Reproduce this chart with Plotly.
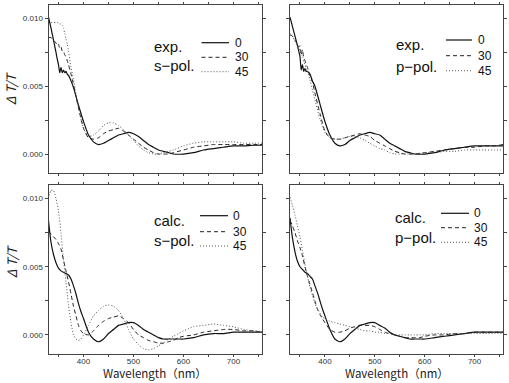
import plotly.graph_objects as go

# ---------------- data ----------------
angles = ["0", "30", "45"]

wl_exp = [330, 335, 340, 345, 347.5, 350, 352.5, 355, 357.5, 360, 362.5, 365, 367.5, 370,
          375, 380, 390, 400, 410, 420, 430, 440, 450, 460, 470, 480, 490, 500, 510, 520,
          530, 540, 550, 560, 570, 580, 600, 620, 640, 660, 680, 700, 720, 740, 757]

exp_s_0 = [0.0101, 0.0093, 0.0084, 0.0075, 0.0070, 0.0066, 0.0060, 0.0064, 0.0060, 0.0062, 0.0060, 0.0061, 0.0059, 0.0058,
           0.0054, 0.0049, 0.0036, 0.0024, 0.0014, 0.0009, 0.0007, 0.0008, 0.0010, 0.0012, 0.0014, 0.0015, 0.0016, 0.0015, 0.0013, 0.0010,
           0.0007, 0.0005, 0.0003, 0.0002, 0.0001, 0.0000, 0.0000, 0.0001, 0.0003, 0.0004, 0.0005, 0.0006, 0.0006, 0.00065, 0.00065]
exp_s_30 = [0.0086, 0.0086, 0.0084, 0.0082, 0.0080, 0.0081, 0.0078, 0.0079, 0.0076, 0.0076, 0.0073, 0.0072, 0.0069, 0.0066,
            0.0059, 0.0051, 0.0034, 0.0019, 0.0012, 0.0011, 0.0012, 0.0015, 0.0017, 0.0018, 0.0019, 0.0017, 0.0014, 0.0011, 0.0008, 0.0005,
            0.0003, 0.0001, 0.0000, 0.0000, 0.0000, 0.0001, 0.0003, 0.0005, 0.0006, 0.0007, 0.0007, 0.0007, 0.0007, 0.0007, 0.0007]
exp_s_45 = [0.0096, 0.0097, 0.0097, 0.0097, 0.0097, 0.0097, 0.0096, 0.0096, 0.0095, 0.0093, 0.0089, 0.0085, 0.0081, 0.0076,
            0.0064, 0.0055, 0.0034, 0.0019, 0.0013, 0.0014, 0.0017, 0.0021, 0.0023, 0.0023, 0.0021, 0.0018, 0.0014, 0.0010, 0.0006, 0.0003,
            0.0001, 0.0000, 0.0000, 0.0001, 0.0002, 0.0003, 0.0006, 0.0008, 0.0009, 0.0009, 0.0009, 0.0009, 0.0008, 0.0008, 0.0008]

exp_p_0 = [0.0101, 0.0094, 0.0087, 0.0080, 0.0076, 0.0072, 0.0062, 0.0066, 0.0061, 0.0063, 0.0061, 0.0061, 0.0060, 0.0059,
           0.0054, 0.0050, 0.0037, 0.0024, 0.0014, 0.0008, 0.0006, 0.0007, 0.0010, 0.0012, 0.0014, 0.0015, 0.0016, 0.0015, 0.0014, 0.0011,
           0.0008, 0.0006, 0.0004, 0.0002, 0.0001, 0.0000, 0.0000, 0.0001, 0.0003, 0.0004, 0.0005, 0.0006, 0.0006, 0.0006, 0.0006]
exp_p_30 = [0.0088, 0.0087, 0.0084, 0.0081, 0.0079, 0.0080, 0.0073, 0.0077, 0.0071, 0.0069, 0.0066, 0.0064, 0.0061, 0.0058,
            0.0053, 0.0045, 0.0030, 0.0017, 0.0012, 0.0011, 0.0011, 0.0012, 0.0013, 0.0014, 0.0015, 0.0014, 0.0013, 0.0010, 0.0008, 0.0006,
            0.0004, 0.0002, 0.0001, 0.0000, 0.0000, 0.0000, 0.0001, 0.0002, 0.0003, 0.0004, 0.0005, 0.0005, 0.0006, 0.0006, 0.0007]
exp_p_45 = [0.0089, 0.0087, 0.0083, 0.0080, 0.0078, 0.0076, 0.0073, 0.0071, 0.0068, 0.0066, 0.0063, 0.0061, 0.0058, 0.0055,
            0.0047, 0.0040, 0.0026, 0.0016, 0.0012, 0.0011, 0.0011, 0.0012, 0.0013, 0.0013, 0.0012, 0.0010, 0.0008, 0.0006, 0.0004, 0.0003,
            0.0001, 0.0000, 0.0000, 0.0000, 0.0000, 0.0000, 0.0001, 0.0001, 0.0002, 0.0002, 0.0003, 0.0003, 0.0003, 0.0003, 0.0003]

wl_calc = [330, 335, 340, 345, 350, 355, 360, 365, 370, 375, 380, 385, 390, 395, 400, 410, 420, 430, 440, 450,
           460, 470, 480, 490, 500, 510, 520, 530, 540, 550, 560, 570, 580, 590, 600, 620, 640, 660, 680, 700,
           720, 740, 757]

calc_s_0 = [0.0084, 0.0068, 0.0059, 0.0053, 0.0049, 0.0047, 0.0046, 0.0045, 0.0044, 0.0041, 0.0036, 0.0030, 0.0023, 0.0017, 0.0012, 0.0002, -0.0003, -0.0005, -0.0003, 0.0001,
            0.0004, 0.0007, 0.0008, 0.0009, 0.0009, 0.0007, 0.0004, 0.0002, 0.0000, -0.0002, -0.0003, -0.0003, -0.0003, -0.0003, -0.0003, -0.0002, 0.0000, 0.0001, 0.0001, 0.0002,
            0.0002, 0.0002, 0.0002]
calc_s_30 = [0.0076, 0.0074, 0.0072, 0.0070, 0.0067, 0.0063, 0.0055, 0.0047, 0.0039, 0.0030, 0.0021, 0.0014, 0.0007, 0.0003, 0.0001, 0.0000, 0.0003, 0.0007, 0.0010, 0.0012,
             0.0013, 0.0014, 0.0012, 0.0009, 0.0004, 0.0000, -0.0002, -0.0004, -0.0005, -0.0006, -0.0006, -0.0005, -0.0004, -0.0002, -0.0001, 0.0000, 0.0002, 0.0003, 0.0004, 0.0004,
             0.0003, 0.0003, 0.0002]
calc_s_45 = [0.0100, 0.0106, 0.0106, 0.0100, 0.0091, 0.0075, 0.0055, 0.0039, 0.0022, 0.0009, 0.0000, -0.0003, -0.0004, -0.0003, 0.0000, 0.0007, 0.0014, 0.0018, 0.0021, 0.0022,
             0.0021, 0.0018, 0.0012, 0.0004, -0.0003, -0.0007, -0.0010, -0.0011, -0.0010, -0.0008, -0.0006, -0.0003, -0.0001, 0.0001, 0.0003, 0.0006, 0.0007, 0.0008, 0.0007, 0.0006,
             0.0004, 0.0003, 0.0002]

calc_p_0 = [0.0086, 0.0071, 0.0061, 0.0054, 0.0050, 0.0048, 0.0046, 0.0045, 0.0043, 0.0041, 0.0036, 0.0031, 0.0025, 0.0019, 0.0014, 0.0004, -0.0003, -0.0005, -0.0003, 0.0001,
            0.0004, 0.0007, 0.0008, 0.0009, 0.0009, 0.0007, 0.0005, 0.0002, 0.0000, -0.0001, -0.0002, -0.0003, -0.0003, -0.0003, -0.0003, -0.0002, -0.0001, 0.0000, 0.0001, 0.0002,
            0.0002, 0.0002, 0.0002]
calc_p_30 = [0.0084, 0.0080, 0.0075, 0.0069, 0.0064, 0.0058, 0.0050, 0.0043, 0.0037, 0.0031, 0.0025, 0.0019, 0.0015, 0.0012, 0.0009, 0.0004, 0.0002, 0.0002, 0.0003, 0.0005,
             0.0006, 0.0007, 0.0007, 0.0007, 0.0006, 0.0004, 0.0002, 0.0001, 0.0000, -0.0001, -0.0002, -0.0002, -0.0002, -0.0002, -0.0001, 0.0000, 0.0000, 0.0001, 0.0001, 0.0002,
             0.0002, 0.0002, 0.0002]
calc_p_45 = [0.0101, 0.0095, 0.0088, 0.0080, 0.0072, 0.0062, 0.0052, 0.0043, 0.0035, 0.0029, 0.0023, 0.0019, 0.0016, 0.0013, 0.0012, 0.0010, 0.0009, 0.0008, 0.0007, 0.0006,
             0.0005, 0.0004, 0.0003, 0.0003, 0.0002, 0.0002, 0.0001, 0.0001, 0.0000, 0.0000, 0.0000, 0.0000, 0.0000, 0.0000, 0.0000, 0.0001, 0.0001, 0.0001, 0.0001, 0.0001,
             0.0001, 0.0001, 0.0001]

y_ticks = [0.000, 0.005, 0.010]
x_ticks = [400, 500, 600, 700]

# ---------------- layout helpers ----------------
W, H = 509, 383
def fx(p): return p / W
def fy(p): return 1 - p / H

styles = [dict(color="#111111", width=1.2, dash="solid"),
          dict(color="#222222", width=1.0, dash="4px,3px"),
          dict(color="#555555", width=1.0, dash="1px,2px")]

panels = [
    dict(wl=wl_exp, ys=[exp_s_0, exp_s_30, exp_s_45], t1="exp.", t2="s\u2212pol.",
         xd=[48.5, 262], yd=[5, 173], tx=152, ty=[46.7, 66], lx=[201.5, 229], ly=[42.7, 57.3, 71.7], nx=233),
    dict(wl=wl_exp, ys=[exp_p_0, exp_p_30, exp_p_45], t1="exp.", t2="p\u2212pol.",
         xd=[290, 503], yd=[5, 173], tx=394, ty=[44.3, 66.7], lx=[446, 472], ly=[40, 55.7, 70.7], nx=476),
    dict(wl=wl_calc, ys=[calc_s_0, calc_s_30, calc_s_45], t1="calc.", t2="s\u2212pol.",
         xd=[48.5, 262], yd=[185, 354], tx=152, ty=[220, 240], lx=[200, 228], ly=[215.7, 231.7, 246], nx=231),
    dict(wl=wl_calc, ys=[calc_p_0, calc_p_30, calc_p_45], t1="calc.", t2="p\u2212pol.",
         xd=[290, 503], yd=[185, 354], tx=393, ty=[217.3, 237.7], lx=[441, 469], ly=[213.3, 227.7, 242.3], nx=472),
]

fig = go.Figure()
layout = dict(width=W, height=H, autosize=False, margin=dict(l=0, r=0, t=0, b=0),
              paper_bgcolor="white", plot_bgcolor="white", showlegend=False,
              font=dict(family="Liberation Sans, Arial, sans-serif", color="#222"))
shapes, annots = [], []

tickfont = dict(family="Liberation Sans, Arial, sans-serif", size=8, color="#333")

for i, p in enumerate(panels):
    k = "" if i == 0 else str(i + 1)
    for ys, st in zip(p["ys"], styles):
        fig.add_trace(go.Scatter(x=p["wl"], y=ys, mode="lines", xaxis="x" + k, yaxis="y" + k,
                                 line=dict(color=st["color"], width=st["width"], dash=st["dash"],
                                           shape="spline", smoothing=0.6),
                                 hoverinfo="skip"))
    bottom = i >= 2
    left = i % 2 == 0
    layout["xaxis" + k] = dict(domain=[fx(p["xd"][0]), fx(p["xd"][1])], range=[330, 757],
                               anchor="y" + k, showline=True, mirror="ticks", linecolor="#444", linewidth=1,
                               ticks="outside", ticklen=2, tickcolor="#444", tickwidth=1,
                               tickvals=x_ticks, showticklabels=bottom, tickfont=tickfont,
                               ticklabelstandoff=-3,
                               minor=dict(dtick=50, tick0=0, ticks="outside", ticklen=2, tickcolor="#444"),
                               showgrid=False, zeroline=False, fixedrange=True)
    layout["yaxis" + k] = dict(domain=[fy(p["yd"][1]), fy(p["yd"][0])], range=[-0.0014, 0.0110],
                               anchor="x" + k, showline=True, mirror="ticks", linecolor="#444", linewidth=1,
                               ticks="outside", ticklen=3, tickcolor="#444", tickwidth=1,
                               tickvals=y_ticks, tickformat=".3f", showticklabels=left, tickfont=tickfont,
                               minor=dict(dtick=0.0025, tick0=0, ticks="outside", ticklen=3, tickcolor="#444"),
                               showgrid=False, zeroline=False, fixedrange=True)
    # in-panel legend
    annots.append(dict(x=fx(p["tx"]), y=fy(p["ty"][0]), xref="paper", yref="paper", text=p["t1"],
                       showarrow=False, xanchor="left", yanchor="middle",
                       font=dict(family="Liberation Sans, Arial, sans-serif", size=15, color="#111")))
    annots.append(dict(x=fx(p["tx"]), y=fy(p["ty"][1]), xref="paper", yref="paper", text=p["t2"],
                       showarrow=False, xanchor="left", yanchor="middle",
                       font=dict(family="Liberation Sans, Arial, sans-serif", size=15, color="#111")))
    for a, st, ly in zip(angles, styles, p["ly"]):
        shapes.append(dict(type="line", xref="paper", yref="paper", x0=fx(p["lx"][0]), x1=fx(p["lx"][1]),
                           y0=fy(ly), y1=fy(ly),
                           line=dict(color=st["color"], width=st["width"], dash=st["dash"])))
        annots.append(dict(x=fx(p["nx"]), y=fy(ly), xref="paper", yref="paper", text=a,
                           showarrow=False, xanchor="left", yanchor="middle",
                           font=dict(family="Liberation Sans, Arial, sans-serif", size=12, color="#111")))

# axis titles
for yc in [89, 262]:
    annots.append(dict(x=fx(11), y=fy(yc), xref="paper", yref="paper", text="<i>\u0394 T/T</i>",
                       showarrow=False, textangle=-90, xanchor="center", yanchor="middle",
                       font=dict(family="Noto Sans CJK JP, sans-serif", size=13, color="#222")))
for xc in [155, 397]:
    annots.append(dict(x=fx(xc), y=fy(383), xref="paper", yref="paper", text="Wavelength\uff08nm\uff09",
                       showarrow=False, xanchor="center", yanchor="bottom",
                       font=dict(family="Noto Sans CJK JP, sans-serif", size=11.5, color="#222")))

layout["shapes"] = shapes
layout["annotations"] = annots
fig.update_layout(**layout)
fig.write_html("out.html")
